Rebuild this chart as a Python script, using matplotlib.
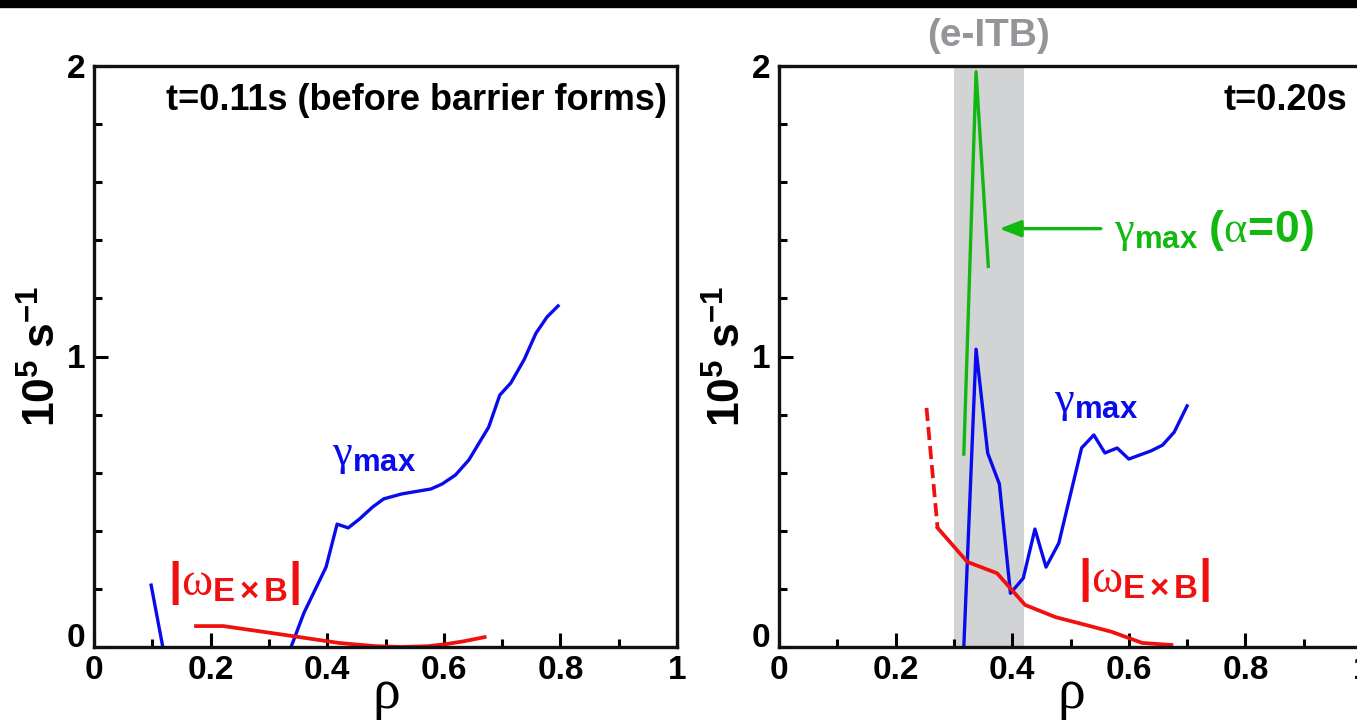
import numpy as np
import matplotlib
matplotlib.use('Agg')
import matplotlib.pyplot as plt
from matplotlib.ticker import MultipleLocator
from matplotlib.patches import Rectangle

plt.rcParams['font.family'] = ['Liberation Sans', 'DejaVu Sans']
plt.rcParams['mathtext.fontset'] = 'custom'
plt.rcParams['mathtext.rm'] = 'Liberation Serif'
plt.rcParams['mathtext.it'] = 'Liberation Serif:italic'
plt.rcParams['mathtext.bf'] = 'Liberation Sans:bold'

BLUE = '#0a0aee'
RED = '#f01010'
GREEN = '#10b810'
BAND = '#d1d3d4'
GREYTXT = '#939598'

# t = 0.11 s
rho_gam_a11 = [0.098, 0.118]
gam_a11 = [0.213, 0.0]
rho_gam_b11 = [0.338, 0.36, 0.398, 0.417, 0.436, 0.455, 0.478, 0.497, 0.528,
               0.578, 0.597, 0.62, 0.643, 0.677, 0.696, 0.715, 0.738, 0.758,
               0.777, 0.796]
gam_b11 = [0.0, 0.117, 0.275, 0.423, 0.41, 0.44, 0.482, 0.51, 0.527,
           0.544, 0.561, 0.592, 0.644, 0.757, 0.867, 0.909, 0.99, 1.08,
           1.136, 1.174]
rho_exb11 = [0.175, 0.222, 0.329, 0.42, 0.482, 0.528, 0.574, 0.604, 0.635, 0.67]
exb11 = [0.072, 0.072, 0.041, 0.014, 0.003, 0.0, 0.003, 0.01, 0.02, 0.034]

# t = 0.20 s
rho_gam20 = [0.317, 0.338, 0.358, 0.378, 0.397, 0.419, 0.439, 0.458, 0.48,
             0.519, 0.54, 0.559, 0.58, 0.60, 0.638, 0.658, 0.678, 0.70]
gam20 = [0.0, 1.025, 0.667, 0.561, 0.185, 0.237, 0.406, 0.275, 0.358,
         0.685, 0.73, 0.668, 0.685, 0.647, 0.675, 0.695, 0.74, 0.83]
rho_gam_a0 = [0.317, 0.338, 0.359]
gam_a0 = [0.664, 1.98, 1.31]
rho_exb20_dash = [0.253, 0.272]
exb20_dash = [0.823, 0.41]
rho_exb20 = [0.272, 0.323, 0.374, 0.422, 0.474, 0.526, 0.571, 0.623, 0.673]
exb20 = [0.41, 0.293, 0.254, 0.145, 0.103, 0.076, 0.052, 0.014, 0.007]
itb_lo, itb_hi = 0.30, 0.42

xticks = [0, 0.2, 0.4, 0.6, 0.8, 1]
xticklabels = ['0', '0.2', '0.4', '0.6', '0.8', '1']
yticks = [0, 1, 2]
yticklabels = ['0', '1', '2']

GAMMA = r'$\mathrm{\gamma}_{\mathbf{max}}$'
OMEGA = r'$\mathbf{|}\mathrm{\omega}_{\mathbf{E\times B}}\mathbf{|}$'

W, H = 1357, 722
fig = plt.figure(figsize=(W / 100, H / 100), dpi=100)
fig.patches.append(Rectangle((0, 1 - 7 / H), 1, 7 / H, transform=fig.transFigure,
                             color='black', zorder=10))

axL = fig.add_axes([94 / W, 1 - 647 / H, 583 / W, 581 / H])
axR = fig.add_axes([779 / W, 1 - 647 / H, 583 / W, 581 / H])


def style(ax):
    ax.set_xlim(0, 1)
    ax.set_ylim(0, 2)
    ax.set_xticks(xticks)
    ax.set_xticklabels(xticklabels, fontweight='bold')
    ax.set_yticks(yticks)
    ax.set_yticklabels(yticklabels, fontweight='bold')
    ax.xaxis.set_minor_locator(MultipleLocator(0.1))
    ax.yaxis.set_minor_locator(MultipleLocator(0.2))
    ax.tick_params(which='both', direction='in', width=2.2, labelsize=24,
                   top=False, right=False)
    ax.tick_params(which='major', length=10, pad=6)
    ax.tick_params(which='minor', length=5.5)
    # lift the "0" on the y axis off the x-axis labels
    ax.get_yticklabels()[0].set_verticalalignment('baseline')
    for s in ax.spines.values():
        s.set_linewidth(2.4)
        s.set_color('#111111')
    ax.set_xlabel(r'$\mathrm{\rho}$', fontsize=40, labelpad=-12)
    ax.set_ylabel(r'$\mathbf{10^5\ s^{-1}}$', fontsize=32, labelpad=2)


style(axL)
style(axR)

# left panel
axL.plot(rho_gam_a11, gam_a11, color=BLUE, lw=2.4)
axL.plot(rho_gam_b11, gam_b11, color=BLUE, lw=2.4)
axL.plot(rho_exb11, exb11, color=RED, lw=2.7)
axL.text(0.983, 0.94, 't=0.11s (before barrier forms)', transform=axL.transAxes,
         ha='right', va='center', fontsize=26, fontweight='bold')
axL.text(0.48, 0.66, GAMMA, color=BLUE, ha='center', va='center', fontsize=32)
axL.text(0.24, 0.22, OMEGA, color=RED, ha='center', va='center', fontsize=34)

# right panel
axR.axvspan(itb_lo, itb_hi, color=BAND, lw=0, zorder=0)
axR.plot(rho_gam_a0, gam_a0, color=GREEN, lw=2.4)
axR.plot(rho_gam20, gam20, color=BLUE, lw=2.4)
axR.plot(rho_exb20_dash, exb20_dash, color=RED, lw=2.7, ls=(0, (3.5, 1.6)))
axR.plot(rho_exb20, exb20, color=RED, lw=2.7)
axR.annotate('', xy=(0.378, 1.44), xytext=(0.552, 1.44),
             arrowprops=dict(arrowstyle='-|>,head_length=1.3,head_width=0.5',
                             color=GREEN, lw=2.4, shrinkA=0, shrinkB=0))
axR.text(0.575, 1.435,
         r'$\mathrm{\gamma}_{\mathbf{max}}\ \mathbf{(}\mathrm{\alpha}\!\mathbf{=}\!\mathbf{0)}$',
         color=GREEN, ha='left', va='center', fontsize=32)
axR.text(0.975, 0.94, 't=0.20s', transform=axR.transAxes,
         ha='right', va='center', fontsize=26, fontweight='bold')
axR.text(0.544, 0.84, GAMMA, color=BLUE, ha='center', va='center', fontsize=32)
axR.text(0.626, 0.23, OMEGA, color=RED, ha='center', va='center', fontsize=34)
axR.text((itb_lo + itb_hi) / 2, 1.052, '(e-ITB)', transform=axR.get_xaxis_transform(),
         ha='center', va='center', fontsize=28, fontweight='bold', color=GREYTXT)

fig.savefig('out.png', dpi=100)
